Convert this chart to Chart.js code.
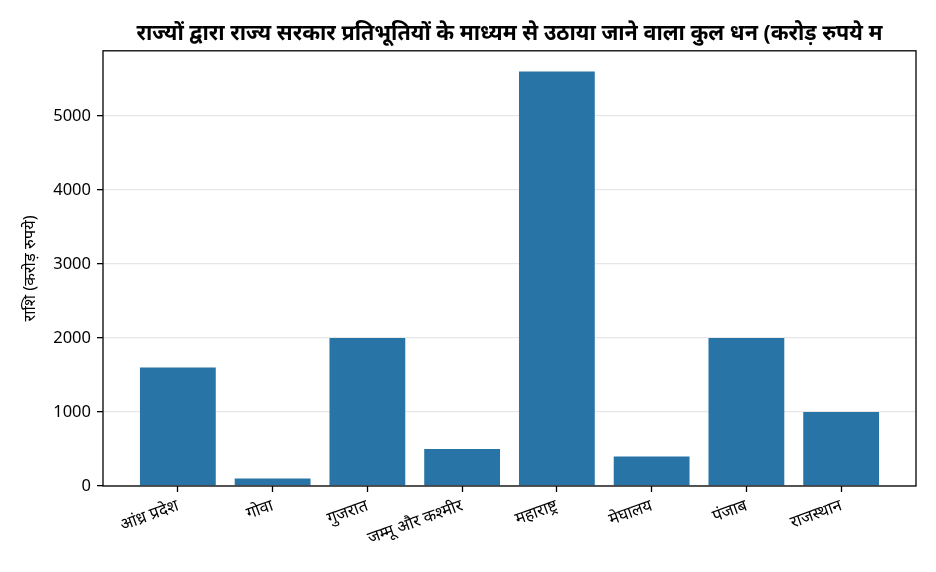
<!DOCTYPE html>
<html>
<head>
<meta charset="utf-8">
<script src="https://cdn.jsdelivr.net/npm/chart.js@4/dist/chart.umd.min.js"></script>
<style>
  html, body { margin: 0; padding: 0; background: #fff; }
  #wrap { width: 936px; height: 572px; }
</style>
</head>
<body>
<div id="wrap"><canvas id="stateChart"></canvas></div>
<script>
// data
const states = ['आंध्र प्रदेश', 'गोवा', 'गुजरात', 'जम्मू और कश्मीर', 'महाराष्ट्र', 'मेघालय', 'पंजाब', 'राजस्थान'];
const amounts = [1600, 100, 2000, 500, 5600, 400, 2000, 1000];
const yTicks = [0, 1000, 2000, 3000, 4000, 5000];

const chartTitle = 'राज्यों द्वारा राज्य सरकार प्रतिभूतियों के माध्यम से उठाया जाने वाला कुल धन (करोड़ रुपये म';
const yTitle = 'राशि (करोड़ रुपये)';

const fontFamily = "'Noto Sans', 'DejaVu Sans', sans-serif";

// box around the plot like matplotlib spines
const frame = {
    id: 'frame',
    afterDraw(chart) {
        const a = chart.chartArea;
        const ctx = chart.ctx;
        ctx.save();
        ctx.strokeStyle = '#000';
        ctx.lineWidth = 1.3;
        ctx.strokeRect(a.left, a.top, a.right - a.left, a.bottom - a.top);
        ctx.restore();
    }
};

document.addEventListener('DOMContentLoaded', function() {
    const ctx = document.getElementById('stateChart');

    new Chart(ctx, {
        type: 'bar',
        data: {
            datasets: [{
                data: amounts.map((v, i) => ({ x: i, y: v })),
                backgroundColor: '#2874A6',
                borderWidth: 0,
                barPercentage: 0.8,
                categoryPercentage: 1.0
            }]
        },
        options: {
            responsive: true,
            maintainAspectRatio: false,
            animation: false,
            layout: { padding: { left: 20, right: 20, top: 0, bottom: 0 } },
            plugins: {
                legend: { display: false },
                tooltip: { enabled: false },
                title: {
                    display: true,
                    text: chartTitle,
                    fullSize: false,
                    color: '#000',
                    font: { family: fontFamily, size: 21.5, weight: 'bold', lineHeight: 1.2 },
                    padding: { top: 21, bottom: 4 }
                }
            },
            scales: {
                x: {
                    type: 'linear',
                    offset: false,
                    min: -0.79,
                    max: 7.79,
                    afterBuildTicks: s => { s.ticks = states.map((_, i) => ({ value: i })); },
                    afterFit: s => { s.height = 86; },
                    ticks: {
                        callback: v => states[v],
                        minRotation: 20,
                        maxRotation: 20,
                        autoSkip: false,
                        color: '#000',
                        padding: 4,
                        font: { family: fontFamily, size: 16.5 }
                    },
                    grid: { offset: false, drawOnChartArea: false, tickColor: '#000', tickLength: 6, tickWidth: 1.3 },
                    border: { display: false }
                },
                y: {
                    min: 0,
                    max: 5880,
                    z: 1,
                    afterBuildTicks: s => { s.ticks = yTicks.map(v => ({ value: v })); },
                    afterFit: s => { s.width = 83; },
                    ticks: {
                        callback: v => String(v),
                        color: '#000',
                        padding: 6,
                        font: { family: fontFamily, size: 16.5 }
                    },
                    grid: { color: 'rgba(176,176,176,0.3)', tickColor: '#000', tickLength: 6, lineWidth: 1.3, tickWidth: 1.3 },
                    border: { display: false },
                    title: {
                        display: true,
                        text: yTitle,
                        color: '#000',
                        font: { family: fontFamily, size: 16.5 },
                        padding: { top: 0, bottom: 0 }
                    }
                }
            }
        },
        plugins: [frame]
    });
});
</script>
</body>
</html>
